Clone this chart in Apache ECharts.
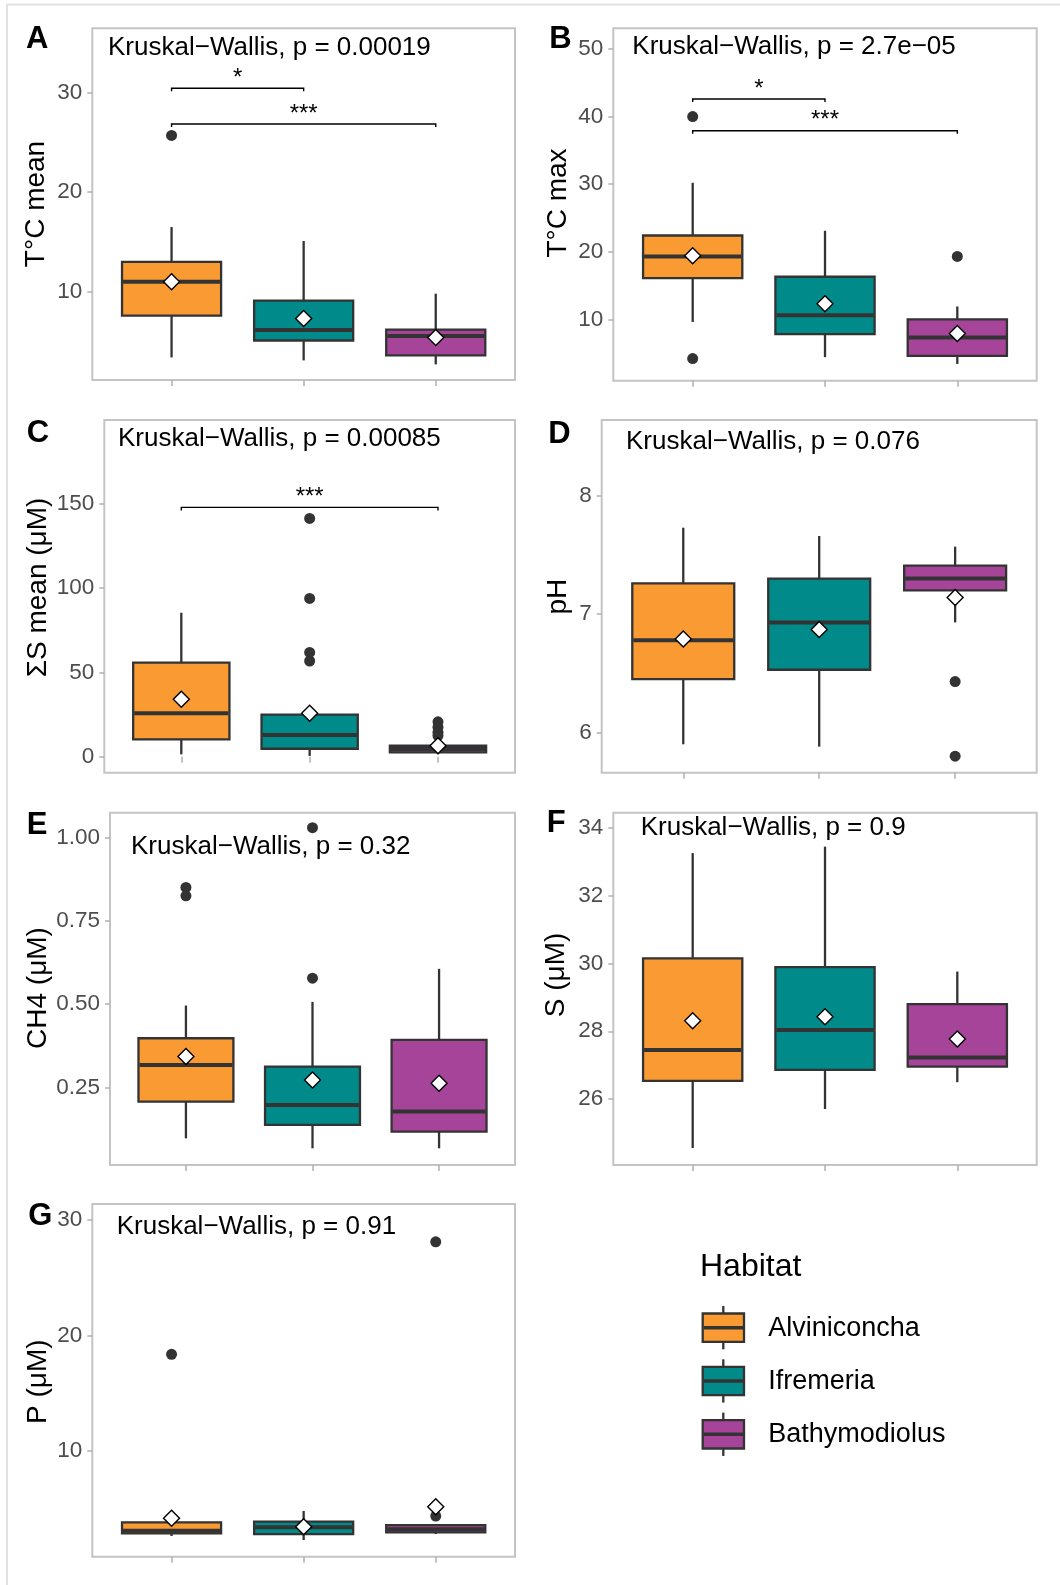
<!DOCTYPE html>
<html>
<head>
<meta charset="utf-8">
<script src="https://cdn.jsdelivr.net/npm/echarts/dist/echarts.min.js"></script>
<style>
html,body{margin:0;padding:0;background:#fff;}
#chart{width:1060px;height:1585px;}
</style>
</head>
<body>
<div id="chart"></div>
<script>
// ---------- DATA ----------
const categories = ['Alviniconcha', 'Ifremeria', 'Bathymodiolus'];

// box stats per habitat: [lower whisker, Q1, median, Q3, upper whisker]
const tMeanBox = [[3.4, 7.6, 11.0, 13.0, 16.5], [3.1, 5.1, 6.15, 9.1, 15.1], [2.7, 3.6, 5.55, 6.2, 9.8]];
const tMeanMeans = [11.0, 7.3, 5.4];
const tMeanOutliers = [[0, 25.7]];
const tMeanSig = [[0, 1, 30.45], [0, 2, 26.85]];
const tMeanSigLabels = ['*', '***'];
const tMeanRange = [1.13, 36.47];
const tMeanTicks = [10, 20, 30];

const tMaxBox = [[9.6, 16.1, 19.3, 22.4, 30.2], [4.4, 7.8, 10.6, 16.3, 23.1], [3.4, 4.6, 7.3, 10.0, 11.9]];
const tMaxMeans = [19.4, 12.3, 7.9];
const tMaxOutliers = [[0, 40.0], [0, 4.2], [2, 19.3]];
const tMaxSig = [[0, 1, 42.6], [0, 2, 37.9]];
const tMaxSigLabels = ['*', '***'];
const tMaxRange = [0.92, 53.05];
const tMaxTicks = [10, 20, 30, 40, 50];

const sMeanBox = [[1.4, 10.3, 25.7, 55.7, 85.3], [0.4, 4.7, 12.9, 24.9, 24.9], [1.5, 2.6, 4.6, 6.5, 9.5]];
const sMeanMeans = [34.0, 25.7, 6.5];
const sMeanOutliers = [[1, 141.2], [1, 93.8], [1, 61.8], [1, 56.7], [2, 20.7], [2, 17.5], [2, 14.5], [2, 12.5]];
const sMeanSig = [[0, 2, 147.7]];
const sMeanSigLabels = ['***'];
const sMeanRange = [-9.48, 199.5];
const sMeanTicks = [0, 50, 100, 150];

const phBox = [[5.90, 6.45, 6.78, 7.26, 7.73], [5.88, 6.53, 6.93, 7.30, 7.66], [6.93, 7.20, 7.30, 7.41, 7.57]];
const phMeans = [6.79, 6.87, 7.14];
const phOutliers = [[2, 6.43], [2, 5.80]];
const phRange = [5.66, 8.64];
const phTicks = [6, 7, 8];

const ch4Box = [[0.098, 0.208, 0.318, 0.398, 0.496], [0.068, 0.138, 0.198, 0.313, 0.507], [0.068, 0.118, 0.178, 0.393, 0.606]];
const ch4Means = [0.343, 0.273, 0.263];
const ch4Outliers = [[0, 0.850], [0, 0.825], [1, 1.029], [1, 0.578]];
const ch4Range = [0.018, 1.074];
const ch4Ticks = [0.25, 0.5, 0.75, 1.0];

const sBox = [[24.56, 26.54, 27.45, 30.15, 33.25], [25.71, 26.86, 28.04, 29.89, 33.44], [26.50, 26.96, 27.23, 28.80, 29.76]];
const sMeans = [28.31, 28.43, 27.77];
const sOutliers = [];
const sRange = [24.06, 34.44];
const sTicks = [26, 28, 30, 32, 34];

const pBox = [[2.64, 2.87, 3.1, 3.83, 3.9], [2.29, 2.81, 3.39, 3.88, 4.81], [2.81, 2.96, 3.22, 3.59, 3.6]];
const pMeans = [4.17, 3.45, 5.18];
const pOutliers = [[0, 18.37], [2, 28.12], [2, 4.37]];
const pRange = [0.85, 31.39];
const pTicks = [10, 20, 30];

const kwLabels = ['Kruskal\u2212Wallis, p = 0.00019', 'Kruskal\u2212Wallis, p = 2.7e\u221205',
  'Kruskal\u2212Wallis, p = 0.00085', 'Kruskal\u2212Wallis, p = 0.076', 'Kruskal\u2212Wallis, p = 0.32',
  'Kruskal\u2212Wallis, p = 0.9', 'Kruskal\u2212Wallis, p = 0.91'];
const yTitles = ['T\u00B0C mean', 'T\u00B0C max', '\u03A3S mean (\u03BCM)', 'pH', 'CH4 (\u03BCM)', 'S (\u03BCM)', 'P (\u03BCM)'];
const panelLetters = ['A', 'B', 'C', 'D', 'E', 'F', 'G'];
const legendTitle = 'Habitat';

// ---------- STYLE / LAYOUT ----------
const fills = ['#F99A33', '#008B8A', '#A6449A'];
const FONT = '"Liberation Sans", Arial, Helvetica, sans-serif';
const DARK = '#333333';

const panels = [
  {box: tMeanBox, mean: tMeanMeans, out: tMeanOutliers, sig: tMeanSig, sigL: tMeanSigLabels, range: tMeanRange, ticks: tMeanTicks,
   grid: [92.3, 28.3, 422.7, 351.7], letter: [26, 39.4], kw: [108, 47.7], title: [36.5, 204]},
  {box: tMaxBox, mean: tMaxMeans, out: tMaxOutliers, sig: tMaxSig, sigL: tMaxSigLabels, range: tMaxRange, ticks: tMaxTicks,
   grid: [613.3, 28.3, 423.4, 352.4], letter: [549.3, 39.5], kw: [632.3, 46.7], title: [558.3, 203]},
  {box: sMeanBox, mean: sMeanMeans, out: sMeanOutliers, sig: sMeanSig, sigL: sMeanSigLabels, range: sMeanRange, ticks: sMeanTicks,
   grid: [104.3, 420, 410.7, 352.7], letter: [26.7, 433.3], kw: [118, 439], title: [38, 587.5]},
  {box: phBox, mean: phMeans, out: phOutliers, sig: [], sigL: [], range: phRange, ticks: phTicks,
   grid: [601.7, 420, 435, 352.7], letter: [548.3, 434], kw: [626, 442.3], title: [558.3, 596.7]},
  {box: ch4Box, mean: ch4Means, out: ch4Outliers, sig: [], sigL: [], range: ch4Range, ticks: ch4Ticks, fmt: v => v.toFixed(2),
   grid: [110, 812.7, 405, 352.3], letter: [26.7, 825], kw: [131, 847.3], title: [38.3, 988]},
  {box: sBox, mean: sMeans, out: sOutliers, sig: [], sigL: [], range: sRange, ticks: sTicks,
   grid: [613.3, 812.7, 423.4, 352.3], letter: [546.7, 823.8], kw: [640.7, 828.3], title: [556.7, 975]},
  {box: pBox, mean: pMeans, out: pOutliers, sig: [], sigL: [], range: pRange, ticks: pTicks,
   grid: [92.3, 1204, 422.7, 352.7], letter: [28.3, 1216.7], kw: [116.7, 1226.7], title: [38.3, 1381.7]}
];

function boxRender(params, api) {
  const x = api.value(0);
  const lo = api.coord([x, api.value(1)]);
  const q1 = api.coord([x, api.value(2)]);
  const md = api.coord([x, api.value(3)]);
  const q3 = api.coord([x, api.value(4)]);
  const hi = api.coord([x, api.value(5)]);
  const w = api.size([0.75, 0])[0];
  const cx = q1[0];
  const fill = fills[Math.round(x) - 1];
  return {
    type: 'group',
    children: [
      {type: 'line', shape: {x1: cx, y1: hi[1], x2: cx, y2: q3[1]}, style: {stroke: DARK, lineWidth: 2.3}},
      {type: 'line', shape: {x1: cx, y1: q1[1], x2: cx, y2: lo[1]}, style: {stroke: DARK, lineWidth: 2.3}},
      {type: 'rect', shape: {x: cx - w / 2, y: q3[1], width: w, height: q1[1] - q3[1]},
       style: {fill: fill, stroke: DARK, lineWidth: 2.3}},
      {type: 'line', shape: {x1: cx - w / 2 + 1, y1: md[1], x2: cx + w / 2 - 1, y2: md[1]}, style: {stroke: DARK, lineWidth: 4}}
    ]
  };
}

function makeSigRender(labels) {
  return function (params, api) {
    const a = api.coord([api.value(0) + 1, api.value(2)]);
    const b = api.coord([api.value(1) + 1, api.value(2)]);
    return {
      type: 'group',
      children: [
        {type: 'polyline', shape: {points: [[a[0], a[1] + 3], [a[0], a[1]], [b[0], b[1]], [b[0], b[1] + 3]]},
         style: {stroke: '#000', lineWidth: 1.4, fill: null}},
        {type: 'text', x: (a[0] + b[0]) / 2, y: a[1] + 2,
         style: {text: labels[params.dataIndex], fill: '#000', font: '24px ' + FONT, align: 'center', verticalAlign: 'bottom'}}
      ]
    };
  };
}

const grids = [], xAxes = [], yAxes = [], series = [], graphics = [];

panels.forEach((p, i) => {
  grids.push({left: p.grid[0], top: p.grid[1], width: p.grid[2], height: p.grid[3],
    show: true, borderColor: '#c4c4c4', borderWidth: 2, backgroundColor: 'transparent'});
  xAxes.push({type: 'value', gridIndex: i, min: 0.4, max: 3.6,
    axisLine: {show: false}, splitLine: {show: false},
    axisLabel: {show: false},
    axisTick: {show: true, customValues: [1, 2, 3], length: 6, lineStyle: {color: '#b0b0b0', width: 1.5}}});
  yAxes.push({type: 'value', gridIndex: i, min: p.range[0], max: p.range[1],
    axisLine: {show: false}, splitLine: {show: false},
    axisTick: {show: true, customValues: p.ticks, length: 5, lineStyle: {color: '#b0b0b0', width: 1.5}},
    axisLabel: {customValues: p.ticks, fontSize: 22.5, color: '#4d4d4d', fontFamily: FONT, margin: 10,
      formatter: p.fmt ? p.fmt : (v => String(v))}});
  series.push({type: 'custom', xAxisIndex: i, yAxisIndex: i, z: 2, renderItem: boxRender,
    encode: {x: 0, y: [1, 2, 3, 4, 5]},
    data: p.box.map((b, k) => [k + 1].concat(b))});
  series.push({type: 'scatter', xAxisIndex: i, yAxisIndex: i, z: 3, symbol: 'circle', symbolSize: 11,
    itemStyle: {color: DARK, opacity: 1}, silent: true,
    data: p.out.map(o => [o[0] + 1, o[1]])});
  series.push({type: 'scatter', xAxisIndex: i, yAxisIndex: i, z: 4, symbol: 'diamond', symbolSize: [16, 16],
    itemStyle: {color: '#fff', borderColor: '#000', borderWidth: 1.4, opacity: 1}, silent: true,
    data: p.mean.map((m, k) => [k + 1, m])});
  if (p.sig.length) {
    series.push({type: 'custom', xAxisIndex: i, yAxisIndex: i, z: 3, renderItem: makeSigRender(p.sigL),
      encode: {x: [0, 1], y: 2}, data: p.sig});
  }
  graphics.push({type: 'text', x: p.letter[0], y: p.letter[1],
    style: {text: panelLetters[i], font: 'bold 31px ' + FONT, fill: '#000', align: 'left', verticalAlign: 'middle'}});
  graphics.push({type: 'text', x: p.kw[0], y: p.kw[1],
    style: {text: kwLabels[i], font: '26px ' + FONT, fill: '#000', align: 'left', verticalAlign: 'middle'}});
  graphics.push({type: 'text', x: p.title[0], y: p.title[1], rotation: Math.PI / 2,
    style: {text: yTitles[i], font: '28px ' + FONT, fill: '#000', align: 'center', verticalAlign: 'middle'}});
});

// outer figure frame
graphics.push({type: 'line', shape: {x1: 6, y1: 4.5, x2: 1060, y2: 4.5}, style: {stroke: '#e2e2e2', lineWidth: 2}});
graphics.push({type: 'line', shape: {x1: 7, y1: 4.5, x2: 7, y2: 1585}, style: {stroke: '#e2e2e2', lineWidth: 2}});

// legend
graphics.push({type: 'text', x: 700, y: 1266.7,
  style: {text: legendTitle, font: '32px ' + FONT, fill: '#000', align: 'left', verticalAlign: 'middle'}});
categories.forEach((c, k) => {
  const cy = 1327.7 + k * 53.3;
  graphics.push({type: 'line', shape: {x1: 723.3, y1: cy - 21.7, x2: 723.3, y2: cy + 21.6}, style: {stroke: DARK, lineWidth: 2.3}});
  graphics.push({type: 'rect', shape: {x: 702.7, y: cy - 14.2, width: 41.3, height: 28.4},
    style: {fill: fills[k], stroke: DARK, lineWidth: 2.3}});
  graphics.push({type: 'line', shape: {x1: 703.7, y1: cy, x2: 743, y2: cy}, style: {stroke: DARK, lineWidth: 3.5}});
  graphics.push({type: 'text', x: 768.3, y: cy + 0.6,
    style: {text: c, font: '27px ' + FONT, fill: '#000', align: 'left', verticalAlign: 'middle'}});
});

const chart = echarts.init(document.getElementById('chart'), null, {renderer: 'canvas'});
chart.setOption({
  animation: false,
  backgroundColor: '#fff',
  grid: grids,
  xAxis: xAxes,
  yAxis: yAxes,
  series: series,
  graphic: graphics
});
</script>
</body>
</html>
